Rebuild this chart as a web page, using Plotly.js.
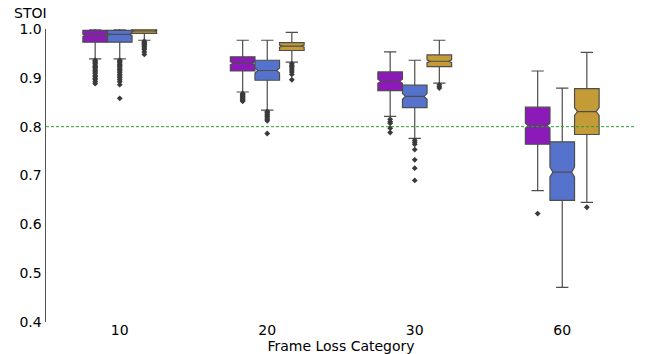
<!DOCTYPE html>
<html>
<head>
<meta charset="utf-8">
<script src="https://cdn.plot.ly/plotly-3.0.1.min.js"></script>
<style>html,body{margin:0;padding:0;background:#fff;}#chart{width:648px;height:354px;}</style>
</head>
<body>
<div id="chart"></div>
<script>
// Categories (x axis)
const categories = ['10', '20', '30', '60'];
const seriesNames = ['Method A', 'Method B', 'Method C'];
const seriesColors = ['#8c1ab9', '#5573cd', '#c39b37'];

// Series A (purple) box statistics per category
const aLower  = [0.939, 0.871, 0.821, 0.669];
const aQ1     = [0.973, 0.914, 0.874, 0.764];
const aMedian = [0.987, 0.930, 0.893, 0.802];
const aQ3     = [0.997, 0.943, 0.912, 0.840];
const aUpper  = [1.000, 0.977, 0.953, 0.914];
const aNotch  = [0.002, 0.003, 0.004, 0.005];
const aOutliers = [
  [0.936,0.934,0.931,0.929,0.926,0.923,0.921,0.918,0.915,0.912,0.909,0.905,0.902,0.899,0.896,0.892,0.888],
  [0.868,0.866,0.864,0.862,0.860,0.858,0.856,0.854,0.852],
  [0.815,0.810,0.807,0.797,0.788],
  [0.622]
];

// Series B (blue)
const bLower  = [0.939, 0.834, 0.776, 0.471];
const bQ1     = [0.973, 0.895, 0.839, 0.649];
const bMedian = [0.989, 0.915, 0.862, 0.707];
const bQ3     = [0.997, 0.936, 0.885, 0.769];
const bUpper  = [1.000, 0.977, 0.936, 0.879];
const bNotch  = [0.002, 0.005, 0.006, 0.010];
const bOutliers = [
  [0.936,0.934,0.931,0.928,0.926,0.923,0.920,0.917,0.914,0.911,0.907,0.904,0.900,0.896,0.892,0.886,0.858],
  [0.831,0.829,0.826,0.824,0.821,0.818,0.815,0.812,0.786],
  [0.772,0.768,0.764,0.753,0.732,0.715,0.690],
  []
];

// Series C (gold)
const cLower  = [0.977, 0.932, 0.889, 0.645];
const cQ1     = [0.991, 0.956, 0.923, 0.784];
const cMedian = [0.996, 0.965, 0.934, 0.831];
const cQ3     = [1.000, 0.972, 0.947, 0.878];
const cUpper  = [1.000, 0.993, 0.977, 0.952];
const cNotch  = [0.001, 0.002, 0.003, 0.008];
const cOutliers = [
  [0.975,0.973,0.971,0.969,0.967,0.964,0.961,0.958,0.953,0.948],
  [0.929,0.926,0.923,0.920,0.916,0.912,0.907,0.896],
  [0.886,0.882,0.879],
  [0.635]
];

const threshold = 0.8;
const yTicks = [0.4, 0.5, 0.6, 0.7, 0.8, 0.9, 1.0];

const stats = [
  {lo: aLower, q1: aQ1, med: aMedian, q3: aQ3, hi: aUpper, notch: aNotch, out: aOutliers},
  {lo: bLower, q1: bQ1, med: bMedian, q3: bQ3, hi: bUpper, notch: bNotch, out: bOutliers},
  {lo: cLower, q1: cQ1, med: cMedian, q3: cQ3, hi: cUpper, notch: cNotch, out: cOutliers}
];

const boxW = 1 / 6;
const lineGray = '#4d4d4d';
const traces = [];
stats.forEach((s, k) => {
  const off = (k - 1) * boxW;
  const xs = categories.map((c, i) => i + off);
  traces.push({
    type: 'box', name: seriesNames[k], x: xs,
    q1: s.q1, median: s.med, q3: s.q3, lowerfence: s.lo, upperfence: s.hi,
    notchspan: s.notch, notched: true, notchwidth: 0.12,
    width: boxW, whiskerwidth: 0.5,
    fillcolor: seriesColors[k],
    line: {color: lineGray, width: 1.2},
    boxpoints: false, hoverinfo: 'skip', showlegend: false
  });
  const ox = [], oy = [];
  s.out.forEach((arr, i) => arr.forEach(v => { ox.push(i + off); oy.push(v); }));
  traces.push({
    type: 'scatter', mode: 'markers', x: ox, y: oy,
    marker: {symbol: 'diamond', size: 4.5, color: '#3a3a3a'},
    hoverinfo: 'skip', showlegend: false
  });
});

const layout = {
  width: 648, height: 354,
  margin: {l: 46, r: 12, t: 29, b: 32},
  paper_bgcolor: '#fff', plot_bgcolor: '#fff',
  font: {family: 'DejaVu Sans, sans-serif', size: 14, color: '#000'},
  xaxis: {
    range: [-0.5, 3.5], tickvals: categories.map((c, i) => i), ticktext: categories,
    showgrid: false, zeroline: false, showline: false, ticks: '',
    tickfont: {size: 14}, ticklabelstandoff: -2,
    title: {text: 'Frame Loss Category', font: {size: 14}, standoff: 0}
  },
  yaxis: {
    range: [0.4, 1.0], tickvals: yTicks, ticktext: yTicks.map(v => v.toFixed(1)),
    showgrid: false, zeroline: false, showline: true, linecolor: '#555', linewidth: 1.5,
    ticks: '', tickfont: {size: 14}
  },
  shapes: [{
    type: 'line', xref: 'paper', x0: 0, x1: 1, yref: 'y', y0: threshold, y1: threshold,
    line: {color: '#2ca02c', width: 1, dash: '3px,2px'}, layer: 'above'
  }],
  annotations: [{
    text: 'STOI', xref: 'paper', yref: 'paper', x: 0, y: 1, xanchor: 'right', yanchor: 'bottom',
    xshift: 3, yshift: 6, showarrow: false, font: {size: 14}
  }]
};

Plotly.newPlot('chart', traces, layout, {displayModeBar: false, staticPlot: true});
</script>
</body>
</html>
